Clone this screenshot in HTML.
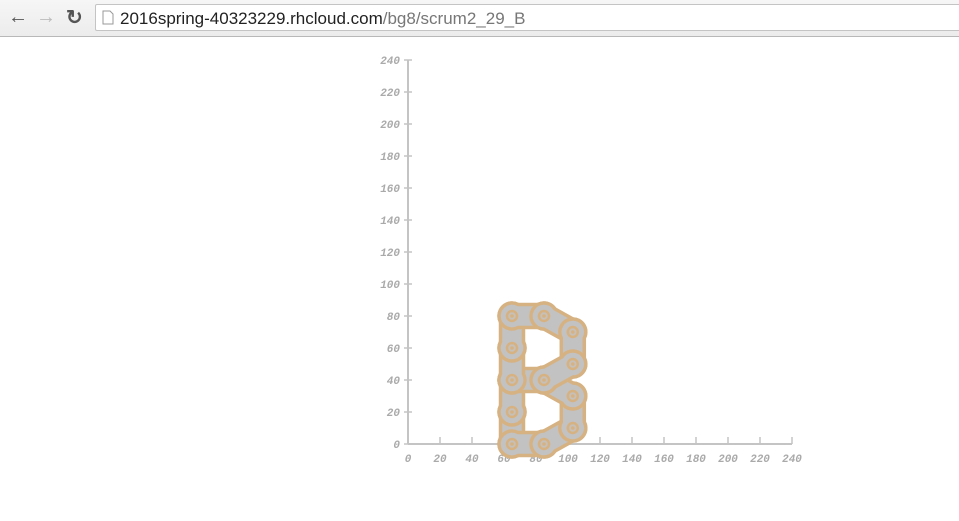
<!DOCTYPE html>
<html><head><meta charset="utf-8"><style>
html,body{margin:0;padding:0;width:959px;height:521px;overflow:hidden;background:#fff;font-family:"Liberation Sans",sans-serif}
#bar{position:absolute;left:0;top:0;width:959px;height:36px;background:linear-gradient(#f6f6f6,#ececec);border-bottom:1px solid #b8b8b8}
#addr{position:absolute;left:95px;top:4px;width:870px;height:27px;background:#fff;border:1px solid #c4c4c4;border-radius:2px;font-size:17px;line-height:27px;color:#222;box-sizing:border-box;padding-left:24px}
#addr span{color:#777}
.nav{position:absolute;top:6px;font-size:20px;font-weight:bold;color:#555}
svg{position:absolute;left:0;top:0}
</style></head><body>
<div id="bar">
<div class="nav" style="left:8px">&#8592;</div>
<div class="nav" style="left:36px;color:#bbb">&#8594;</div>
<div class="nav" style="left:66px;top:5px">&#8635;</div>
<div id="addr"><svg width="12" height="15" style="left:6px;top:5px"><path d="M1 1h7l3 3v10H1z" fill="#fff" stroke="#999"/></svg>2016spring-40323229.rhcloud.com<span>/bg8/scrum2_29_B</span></div>
</div>
<svg id="chart" width="959" height="521" style="top:0"></svg>
<script>
const ticks=[0,20,40,60,80,100,120,140,160,180,200,220,240];
const pins=[[65,0],[85,0],[103,10],[103,30],[85,40],[65,40],[65,20],[65,60],[65,80],[85,80],[103,70],[103,50]];
const links=[[6,0],[5,6],[0,1],[1,2],[2,3],[3,4],[4,5],[5,7],[7,8],[8,9],[9,10],[10,11],[11,4]];
const X0=408,Y0=444,S=1.6;
const sx=v=>X0+v*S, sy=v=>Y0-v*S;
const svg=document.getElementById('chart');
const NS='http://www.w3.org/2000/svg';
function mk(t,a){const e=document.createElementNS(NS,t);for(const k in a)e.setAttribute(k,a[k]);svg.appendChild(e);return e;}
const ax='#c4c4c4',tc='#aaa',tan='#d6b283';
let e=mk('line',{x1:X0,y1:sy(240),x2:X0,y2:Y0,stroke:ax,'stroke-width':2});

e=mk('line',{x1:X0,y1:Y0,x2:sx(240),y2:Y0,stroke:ax,'stroke-width':2});

ticks.forEach(t=>{
 let l=mk('line',{x1:X0-4,x2:X0+4,y1:sy(t),y2:sy(t),stroke:ax,'stroke-width':1.5});
 
 let tx=mk('text',{x:X0-8,y:sy(t)+4,'text-anchor':'end',fill:tc,'font-size':11,'font-style':'italic','font-weight':'bold','font-family':'Liberation Mono, monospace'});
 tx.textContent=t;
 l=mk('line',{x1:sx(t),x2:sx(t),y1:Y0-7,y2:Y0,stroke:ax,'stroke-width':1.5});
 
 tx=mk('text',{x:sx(t),y:Y0+18,'text-anchor':'middle',fill:tc,'font-size':11,'font-style':'italic','font-weight':'bold','font-family':'Liberation Mono, monospace'});
 tx.textContent=t;
});
const R=13,W=11.5,A=Math.sqrt(R*R-W*W);
function drawPin(p){
 let c=mk('circle',{cx:sx(p[0]),cy:sy(p[1]),r:5,fill:'#c6c0b8',stroke:tan,'stroke-width':2.5});
 
 c=mk('circle',{cx:sx(p[0]),cy:sy(p[1]),r:1.8,fill:tan});
 
}
links.forEach(([a,b])=>{
 const x1=sx(pins[a][0]),y1=sy(pins[a][1]),x2=sx(pins[b][0]),y2=sy(pins[b][1]);
 const L=Math.hypot(x2-x1,y2-y1),ang=Math.atan2(y2-y1,x2-x1)*180/Math.PI;
 const d=`M${A},${-W} L${L-A},${-W} A${R} ${R} 0 1 1 ${L-A},${W} L${A},${W} A${R} ${R} 0 1 1 ${A},${-W} Z`;
 const p=mk('path',{d:d,fill:'#c2c2c2',stroke:tan,'stroke-width':3.5,transform:`translate(${x1},${y1}) rotate(${ang})`});
 
 drawPin(pins[a]);drawPin(pins[b]);
});
</script>
</body></html>
